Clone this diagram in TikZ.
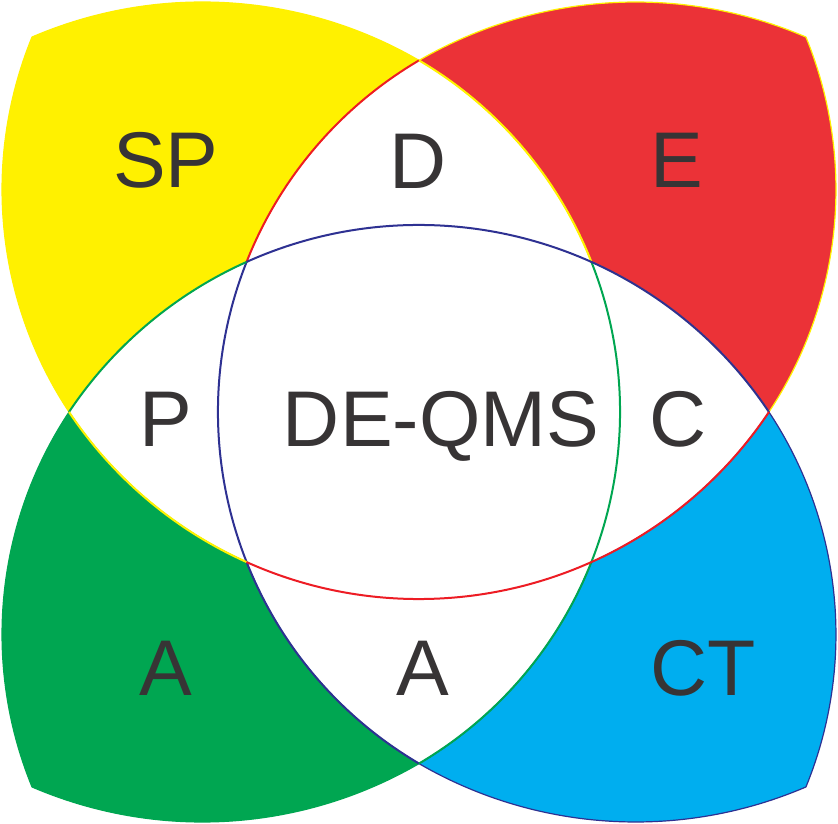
\documentclass[tikz,border=0pt]{standalone}
\usepackage{fontspec}
\setmainfont{Liberation Sans}
\definecolor{cY}{HTML}{FFF100}
\definecolor{cR}{HTML}{EB3237}
\definecolor{cG}{HTML}{00A651}
\definecolor{cB}{HTML}{00AEEF}
\definecolor{cP}{HTML}{2E3192}
\definecolor{cRs}{HTML}{ED1C24}
\definecolor{cYs}{HTML}{FFF200}
\definecolor{cT}{HTML}{373435}
\begin{document}
\begin{tikzpicture}[x=1pt,y=1pt,
  lbl/.style={anchor=base, inner sep=0pt, text=cT, font=\fontsize{79}{95}\selectfont},
  lens/.style={line width=2pt},
  petal/.style={line width=1.2pt}]
\fill[white] (-419,-412) rectangle (419,412);
\useasboundingbox (-419,-412) rectangle (419,412);

\coordinate (vt) at (0,351.6);
\coordinate (vb) at (0,-351.6);
\coordinate (hl) at (-350,0);
\coordinate (hr) at (350,0);
\coordinate (iul) at (-172.4,150.1);
\coordinate (iur) at (172.4,150.1);
\coordinate (ill) at (-172.4,-150.1);
\coordinate (ilr) at (172.4,-150.1);

% yellow petal
\filldraw[petal, fill=cY, draw=cY] (vt)
  arc[start angle=59.84, end angle=113.25, radius=431.3pt]
  arc[start angle=157.73, end angle=213.53, radius=402.6pt]
  arc[start angle=146.23, end angle=114.17, radius=421pt]
  arc[start angle=158.42, end angle=120.48, radius=408pt] -- cycle;
% red petal
\filldraw[petal, fill=cR, draw=cYs] (vt)
  arc[start angle=120.16, end angle=66.75, radius=431.3pt]
  arc[start angle=22.27, end angle=-33.53, radius=402.6pt]
  arc[start angle=33.77, end angle=65.83, radius=421pt]
  arc[start angle=21.58, end angle=59.52, radius=408pt] -- cycle;
% green petal
\filldraw[petal, fill=cG, draw=cG] (vb)
  arc[start angle=-59.84, end angle=-113.25, radius=431.3pt]
  arc[start angle=-157.73, end angle=-213.53, radius=402.6pt]
  arc[start angle=213.77, end angle=245.83, radius=421pt]
  arc[start angle=201.58, end angle=239.52, radius=408pt] -- cycle;
% blue petal
\filldraw[petal, fill=cB, draw=cP] (vb)
  arc[start angle=239.84, end angle=293.25, radius=431.3pt]
  arc[start angle=337.73, end angle=393.53, radius=402.6pt]
  arc[start angle=326.23, end angle=294.17, radius=421pt]
  arc[start angle=338.42, end angle=300.48, radius=408pt] -- cycle;

% lens arcs
\draw[lens, cRs] (vt) arc[start angle=120.48, end angle=158.42, radius=408pt];
\draw[lens, cP] (iul) arc[start angle=158.42, end angle=239.52, radius=408pt];
\draw[lens, cYs] (vt) arc[start angle=59.52, end angle=21.58, radius=408pt];
\draw[lens, cG] (iur) arc[start angle=21.58, end angle=-59.52, radius=408pt];
\draw[lens, cG] (hl) arc[start angle=146.23, end angle=114.17, radius=421pt];
\draw[lens, cP] (iul) arc[start angle=114.17, end angle=33.77, radius=421pt];
\draw[lens, cYs] (hl) arc[start angle=213.77, end angle=245.83, radius=421pt];
\draw[lens, cRs] (ill) arc[start angle=245.83, end angle=326.23, radius=421pt];

% labels
\node[lbl] (sp) at (-253,224) {SP};
\node[lbl] (d) at (-1,223) {D};
\node[lbl] (e) at (258,224) {E};
\node[lbl] (p) at (-253,-35) {P};
\node[lbl] (qms) at (22,-35) {DE-QMS};
\node[lbl] (c) at (259,-35) {C};
\node[lbl] (a1) at (-253,-283) {A};
\node[lbl] (a2) at (4,-283) {A};
\node[lbl] (ct) at (284,-283) {CT};
\end{tikzpicture}
\end{document}
